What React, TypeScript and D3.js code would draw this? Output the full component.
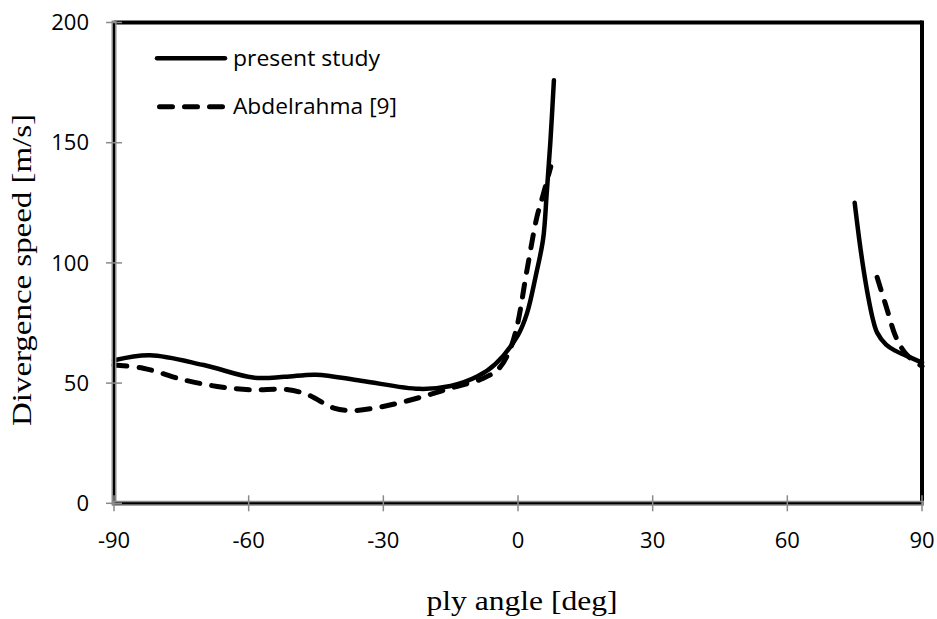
import React from "react";
import * as d3 from "d3";

const presentLeftX = [-90, -82, -70, -59, -52, -45, -35, -22, -15, -9, -5, 0, 2, 4, 5.6, 6.4, 7.2, 8];
const presentLeftY = [59.5, 61.6, 57.5, 52.3, 52.6, 53.5, 51, 47.6, 48.8, 52.8, 58, 70, 79, 95, 110, 129, 150, 176];
const presentRightX = [75, 76, 77, 78, 79, 80, 82, 84, 87, 90];
const presentRightY = [125, 110, 97, 86, 77, 71, 66, 63.5, 61, 58.5];
const abdelLeftX = [-90, -83.5, -74.6, -67, -59.7, -51.5, -47, -41, -36.6, -30, -22.5, -15, -7.7, -4.3, -2, -0.3, 2, 4.2, 5.7, 7.3];
const abdelLeftY = [57.5, 56.2, 51.4, 48.6, 47.2, 47.3, 45.3, 39.6, 38.6, 40.3, 43.7, 47.9, 52, 56, 63, 73, 97, 119, 129, 140];
const abdelRightX = [80, 82, 84, 85.5, 87, 90];
const abdelRightY = [94, 82, 70, 64.5, 61, 57];

const xTicks = [-90, -60, -30, 0, 30, 60, 90];
const yTicks = [0, 50, 100, 150, 200];
const legendLabels = ["present study", "Abdelrahma [9]"];

const W = 937;
const H = 619;
const L = 114, R = 922, T = 22.5, B = 503.3;

export default function App() {
  const x = d3.scaleLinear().domain([-90, 90]).range([L, R]);
  const y = d3.scaleLinear().domain([0, 200]).range([B, T]);
  const line = d3
    .line<[number, number]>()
    .x((d) => x(d[0]))
    .y((d) => y(d[1]))
    .curve(d3.curveCatmullRom.alpha(0.5));
  const zip = (a: number[], b: number[]) => a.map((v, i) => [v, b[i]] as [number, number]);
  const tickFont = "'Open Sans', 'Noto Sans', sans-serif";
  const serif = "'Liberation Serif', 'Times New Roman', serif";
  const dash = "13 12";
  return (
    <svg width={W} height={H} style={{ position: "absolute", left: 0, top: 0 }}>
      <rect x={0} y={0} width={W} height={H} fill="#fff" />
      {/* frame top and right */}
      <line x1={L} x2={R} y1={T} y2={T} stroke="#000" strokeWidth={4} />
      <line x1={R} x2={R} y1={T - 2} y2={B} stroke="#000" strokeWidth={4} />
      {/* curves */}
      <path d={line(zip(presentLeftX, presentLeftY)) || ""} fill="none" stroke="#000" strokeWidth={4.5} strokeLinecap="round" />
      <path d={line(zip(presentRightX, presentRightY)) || ""} fill="none" stroke="#000" strokeWidth={4.5} strokeLinecap="round" />
      <path d={line(zip(abdelLeftX, abdelLeftY)) || ""} fill="none" stroke="#000" strokeWidth={5} strokeLinecap="round" strokeDasharray={dash} />
      <path d={line(zip(abdelRightX, abdelRightY)) || ""} fill="none" stroke="#000" strokeWidth={5} strokeLinecap="round" strokeDasharray={dash} />
      {/* axes */}
      <line x1={L} x2={L} y1={T - 2} y2={B + 2} stroke="#8a8a8a" strokeWidth={5} />
      <line x1={L} x2={L} y1={T} y2={B} stroke="#000" strokeWidth={2} />
      <line x1={L - 2} x2={R + 2} y1={B} y2={B} stroke="#8a8a8a" strokeWidth={5} />
      <line x1={L} x2={R} y1={B} y2={B} stroke="#000" strokeWidth={2} />
      {yTicks.map((t) => (
        <g key={"y" + t}>
          <line x1={L - 8} x2={L + 8} y1={y(t)} y2={y(t)} stroke="#8a8a8a" strokeWidth={1.5} />
          <text x={89} y={y(t)} dy="0.35em" textAnchor="end" fontFamily={tickFont} fontSize={22} fill="#000">
            {t}
          </text>
        </g>
      ))}
      {xTicks.map((t) => (
        <g key={"x" + t}>
          <line x1={x(t)} x2={x(t)} y1={B - 8} y2={B + 8} stroke="#8a8a8a" strokeWidth={1.5} />
          <text x={x(t)} y={540} dy="0.35em" textAnchor="middle" fontFamily={tickFont} fontSize={22} fill="#000">
            {t}
          </text>
        </g>
      ))}
      {/* axis titles */}
      <text x={522} y={610} textAnchor="middle" fontFamily={serif} fontSize={28} fill="#000" textLength={191} lengthAdjust="spacingAndGlyphs">
        ply angle [deg]
      </text>
      <text transform="translate(31,270) rotate(-90)" textAnchor="middle" fontFamily={serif} fontSize={28} fill="#000" textLength={312} lengthAdjust="spacingAndGlyphs">
        Divergence speed [m/s]
      </text>
      {/* legend */}
      <line x1={157} x2={225} y1={58.3} y2={58.3} stroke="#000" strokeWidth={4.5} strokeLinecap="round" />
      <text x={233} y={58.3} dy="0.35em" fontFamily={tickFont} fontSize={21} fill="#000" textLength={147} lengthAdjust="spacingAndGlyphs">
        {legendLabels[0]}
      </text>
      <line x1={159.5} x2={222.5} y1={106.7} y2={106.7} stroke="#000" strokeWidth={5} strokeLinecap="round" strokeDasharray={dash} />
      <text x={233} y={106.7} dy="0.35em" fontFamily={tickFont} fontSize={21} fill="#000" textLength={164} lengthAdjust="spacingAndGlyphs">
        {legendLabels[1]}
      </text>
    </svg>
  );
}
